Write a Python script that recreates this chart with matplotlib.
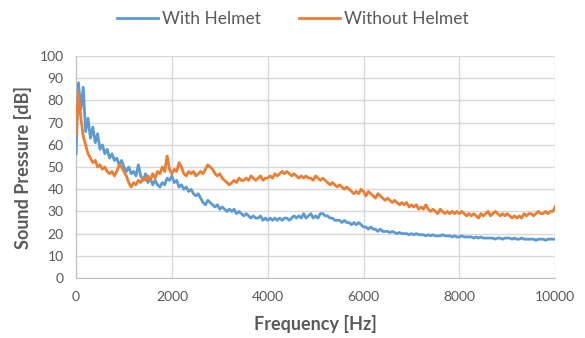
import numpy as np
import matplotlib
matplotlib.use("Agg")
import matplotlib.pyplot as plt

plt.rcParams['font.family'] = ['Lato', 'DejaVu Sans']

# frequency bins (Hz), 50 Hz spacing
freq = np.arange(0, 10001, 50)

with_helmet = [
    56, 88, 76, 86, 66, 72, 63, 68, 61, 65, 58, 60, 56, 58, 54, 56, 53, 54, 51, 53,
    50, 48, 50, 47, 48, 46, 51, 46, 44, 47, 43, 45, 42, 44, 42, 41, 43, 42, 45, 44,
    46, 43, 44, 41, 42, 40, 41, 39, 40, 38, 37, 38, 36, 34, 33, 35, 34, 33, 32, 33,
    31, 32, 31, 30, 31, 30, 31, 29, 30, 29, 28, 29, 28, 27, 28, 27, 27, 28, 26, 27,
    26, 27, 26, 27, 26, 27, 26, 27, 27, 26, 27, 28, 27, 28, 27, 29, 27, 28, 29, 27,
    28, 27, 29, 29, 28, 28, 27, 27, 26, 26, 26, 25, 26, 25, 25, 24, 25, 24, 25, 24,
    23, 23, 22, 23, 22, 22, 21, 22, 21, 21, 21, 20.5, 21, 20.5, 20, 20.5, 20, 20, 20, 19.5,
    20, 19.5, 20, 19.5, 19.5, 19.5, 19, 19.5, 19, 19.5, 19, 19, 19, 19.5, 19, 19, 19, 18.5, 19, 18.5,
    18.5, 19, 18.5, 18.5, 18.5, 18.5, 18, 18.5, 18, 18.5, 18, 18, 18, 18, 18, 17.5, 18, 18, 17.5, 18,
    18, 18, 17.5, 18, 17.5, 17.5, 18, 17.5, 17.5, 17.5, 17.5, 17.5, 17, 17.5, 17.5, 17.5, 17, 17.5,
    17.5, 17.5, 17.5,
]

without_helmet = [
    65, 84, 72, 64, 60, 56, 54, 52, 53, 50, 51, 49, 50, 48, 47, 48, 46, 48, 51, 50,
    48, 46, 43, 41, 43, 42, 44, 43, 45, 44, 46, 44, 47, 45, 48, 47, 50, 48, 55, 49,
    47, 49, 48, 52, 50, 47, 46, 48, 47, 48, 46, 47, 48, 47, 49, 51, 50, 49, 47, 46,
    47, 45, 44, 43, 42, 43, 44, 43, 45, 44, 44, 45, 44, 46, 45, 44, 45, 46, 44, 45,
    45, 46, 45, 47, 46, 47, 48, 47, 48, 47, 46, 47, 46, 45, 46, 45, 46, 45, 45, 44,
    46, 45, 44, 45, 44, 43, 42, 43, 42, 41, 42, 41, 40, 41, 40, 39, 38, 39, 38, 40,
    39, 37, 39, 38, 37, 36, 38, 37, 36, 35, 36, 35, 34, 35, 34, 33, 34, 33, 34, 32,
    33, 32, 33, 31, 32, 31, 33, 31, 30, 31, 30, 29, 31, 30, 29, 30, 29, 30, 29, 30,
    29, 30, 29, 28, 29, 28, 29, 28, 27, 29, 28, 29, 30, 28, 29, 30, 29, 28, 29, 28,
    29, 28, 27, 28, 27, 28, 27, 29, 28, 29, 29, 28, 29, 30, 29, 29, 30, 29, 30, 30,
    32,
]

blue = "#5b9bd5"
orange = "#ed7d31"
grid_col = "#d9d9d9"
text_col = "#595959"

fig = plt.figure(figsize=(5.85, 3.38), dpi=100)
ax = fig.add_axes([0.130, 0.1775, 0.819, 0.6565])

ax.plot(freq, with_helmet, color=blue, lw=2.0, label="With Helmet", zorder=3)
ax.plot(freq, without_helmet, color=orange, lw=2.0, label="Without Helmet", zorder=4)

ax.set_xlim(0, 10000)
ax.set_ylim(0, 100)
ax.set_xticks(range(0, 10001, 2000))
ax.set_yticks(range(0, 101, 10))
ax.grid(True, color=grid_col, lw=1)
ax.set_axisbelow(True)
for s in ax.spines.values():
    s.set_visible(False)
ax.spines['left'].set_visible(True)
ax.spines['bottom'].set_visible(True)
ax.spines['left'].set_color("#bfbfbf")
ax.spines['bottom'].set_color("#bfbfbf")
ax.tick_params(length=0, colors=text_col, labelsize=10, pad=9)

ax.set_xlabel("Frequency [Hz]", fontsize=13, fontweight="bold", color=text_col, labelpad=9)
ax.set_ylabel("Sound Pressure [dB]", fontsize=13, fontweight="bold", color=text_col, labelpad=5)

fig.legend(loc="center", bbox_to_anchor=(0.5, 0.945), ncol=2, frameon=False,
           fontsize=12.5, labelcolor=text_col, handlelength=2.4, columnspacing=2.2, handletextpad=0.2)

fig.savefig("out.png", dpi=100)
